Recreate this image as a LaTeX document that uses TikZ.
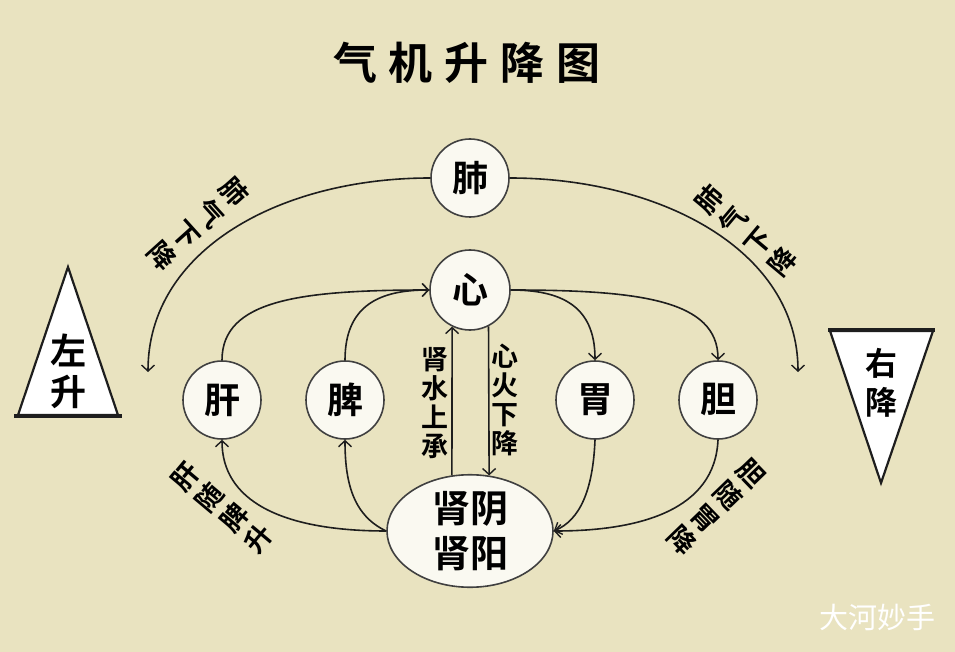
\documentclass[tikz,border=0pt]{standalone}
\usepackage{fontspec}
\usetikzlibrary{arrows.meta,shapes.geometric}
\newfontfamily\cjk{Noto Sans CJK SC}
\newfontfamily\cjkb{Noto Sans CJK SC Bold}
\definecolor{bg}{HTML}{E9E3C0}
\definecolor{nodefill}{HTML}{FAF9F1}
\definecolor{ink}{HTML}{1E1E1E}
\begin{document}
\begin{tikzpicture}[x=1pt,y=-1pt,
  organ/.style={circle,draw=ink!85,line width=1.6pt,fill=nodefill,minimum size=78pt,inner sep=0pt,font=\cjkb\fontsize{36}{36}\selectfont},
  arr/.style={draw=ink,line width=1.6pt,-{Straight Barb[length=6pt,width=13pt,line width=1.4pt]}},
  vlabel/.style={align=center,inner sep=0pt,font=\cjkb\fontsize{27}{29}\selectfont},
  rlabel/.style={align=center,inner sep=0pt,font=\cjkb\fontsize{27}{32}\selectfont},
  tri/.style={fill=white,draw=ink,line width=2.2pt,line join=miter}]
\useasboundingbox (0,0) rectangle (955,652);
\fill[bg] (0,0) rectangle (955,652);

% title
\node[font=\cjkb\fontsize{44}{44}\selectfont,inner sep=0pt] (title) at (467,63) {气\hspace{12pt}机\hspace{12pt}升\hspace{12pt}降\hspace{12pt}图};

% organs
\node[organ] (fei) at (470,178) {肺};
\node[organ,minimum size=80pt] (xin) at (470,290) {心};
\node[organ] (gan) at (222,400) {肝};
\node[organ] (pi) at (345,400) {脾};
\node[organ] (wei) at (595,400) {胃};
\node[organ] (dan) at (718,400) {胆};
\node[ellipse,draw=ink!85,line width=1.6pt,fill=nodefill,minimum width=166pt,minimum height=112pt,inner sep=0pt,align=center,font=\cjkb\fontsize{38}{45}\selectfont] (shen) at (470,531) {肾阴\\肾阳};

% triangles
\draw[tri] (68,267) -- (118,415) -- (18,415) -- cycle;
\draw[ink,line width=4pt] (14,416) -- (122,416);
\node[align=center,inner sep=0pt,font=\cjkb\fontsize{36}{41}\selectfont] (zuo) at (68,371) {左\\升};
\draw[tri] (830,331) -- (933,331) -- (881,483) -- cycle;
\draw[ink,line width=4pt] (828,330) -- (935,330);
\node[align=center,inner sep=0pt,font=\cjkb\fontsize{32}{39}\selectfont] (you) at (881,383) {右\\降};

% connectors
\coordinate (lend) at (148,372);
\coordinate (rend) at (798,372);
\draw[arr] (fei.west) .. controls (280,178) and (148,250) .. (lend);
\draw[arr] (fei.east) .. controls (660,178) and (798,250) .. (rend);
\draw[arr] (gan.north) .. controls (222,300) and (300,290) .. (xin.west);
\draw[arr] (pi.north) .. controls (345,305) and (380,290) .. (xin.west);
\draw[arr] (xin.east) .. controls (560,290) and (595,305) .. (wei.north);
\draw[arr] (xin.east) .. controls (640,290) and (718,300) .. (dan.north);
\draw[arr] (shen.108.4) -- (xin.-116.7);
\draw[arr] (xin.-63.3) -- (shen.71.6);
\draw[arr] (shen.west) .. controls (280,531) and (222,500) .. (gan.south);
\draw[arr] (shen.west) .. controls (352,515) and (345,480) .. (pi.south);
\draw[arr] (wei.south) .. controls (593,490) and (580,520) .. (shen.east);
\draw[arr] (dan.south) .. controls (715,510) and (640,531) .. (shen.east);

% labels
\node[vlabel] (v1) at (435,403) {肾\\水\\上\\承};
\node[vlabel] (v2) at (505,400) {心\\火\\下\\降};
\node[rlabel,rotate=-48] (l1) at (198,224) {肺\\气\\下\\降};
\node[rlabel,rotate=50] (l2) at (746,231) {肺\\气\\下\\降};
\node[rlabel,rotate=50] (l3) at (222,508) {肝\\随\\脾\\升};
\node[rlabel,rotate=-46] (l4) at (716,507) {胆\\随\\胃\\降};

% watermark
\node[font=\cjk\fontsize{29}{29}\selectfont,text=white,inner sep=0pt] (wm) at (877,617) {大河妙手};
\end{tikzpicture}
\end{document}
